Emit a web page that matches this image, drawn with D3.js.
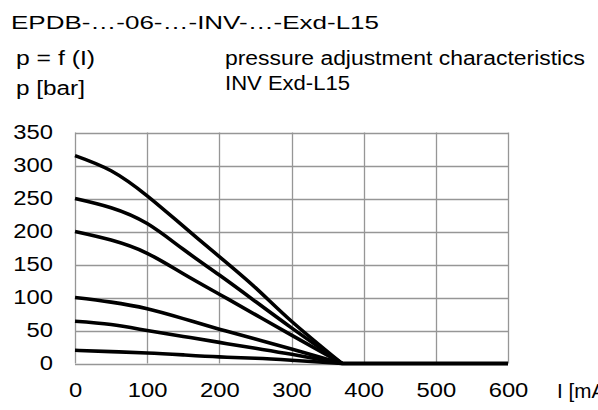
<!DOCTYPE html>
<html>
<head>
<meta charset="utf-8">
<script src="https://cdn.jsdelivr.net/npm/d3@7/dist/d3.min.js"></script>
<style>
  html, body { margin: 0; padding: 0; background: #fff; }
  svg { display: block; font-family: "Liberation Sans", Arial, sans-serif; }
</style>
</head>
<body>
<svg id="chart" width="598" height="410"></svg>
<script>
// ---- data ----
const currentPoints = [0, 50, 100, 150, 200, 250, 300, 370];
const curve315 = [315, 292, 254, 208, 162, 115, 64, 0];
const curve250 = [250, 236, 212, 173, 134, 94, 54, 0];
const curve200 = [200, 187, 167, 136, 105, 74, 43, 0];
const curve100 = [100, 93, 83, 68, 52, 37, 22, 0];
const curve64  = [64, 59, 50, 41, 32, 23, 14, 0];
const curve20  = [20, 18, 16, 13, 10, 8, 5, 0];
const zeroLineX = [370, 600];
const zeroLineY = [0, 0];
const xTicks = [0, 100, 200, 300, 400, 500, 600];
const yTicks = [0, 50, 100, 150, 200, 250, 300, 350];
const titleText = "EPDB-…-06-…-INV-…-Exd-L15";
const formulaText = "p = f (I)";
const yUnitText = "p [bar]";
const descText1 = "pressure adjustment characteristics";
const descText2 = "INV Exd-L15";
const xUnitText = "I [mA]";

// ---- chart ----
const svg = d3.select("#chart");
const x = d3.scaleLinear().domain([0, 600]).range([75, 508]);
const y = d3.scaleLinear().domain([0, 350]).range([363.5, 132.5]);
const STRETCH = 1.22;

function stretch(sel, factor) {
  sel.each(function() {
    const w = this.getComputedTextLength();
    d3.select(this).attr("textLength", w * factor).attr("lengthAdjust", "spacingAndGlyphs");
  });
}

const grid = svg.append("g");
grid.selectAll("line.h").data(yTicks).join("line")
  .attr("x1", x(0)).attr("x2", x(600))
  .attr("y1", d => Math.round(y(d)) + 0.5).attr("y2", d => Math.round(y(d)) + 0.5)
  .attr("stroke", "#969696").attr("stroke-width", 1.3);
grid.selectAll("line.v").data(xTicks).join("line")
  .attr("y1", y(0)).attr("y2", y(350))
  .attr("x1", d => Math.round(x(d)) + 0.5).attr("x2", d => Math.round(x(d)) + 0.5)
  .attr("stroke", "#969696").attr("stroke-width", 1.3);

// axes (labels only)
const yAxis = d3.axisLeft(y).tickValues(yTicks).tickSize(0).tickPadding(22);
const gy = svg.append("g").attr("transform", "translate(" + x(0) + ",0)").call(yAxis);
gy.select(".domain").remove();
gy.selectAll("text").attr("font-size", 19.5).attr("fill", "#000")
  .attr("font-family", "Liberation Sans, Arial, sans-serif").call(stretch, STRETCH);

const xAxis = d3.axisBottom(x).tickValues(xTicks).tickSize(0).tickPadding(20);
const gx = svg.append("g").attr("transform", "translate(0," + y(0) + ")").call(xAxis);
gx.select(".domain").remove();
gx.selectAll("text").attr("font-size", 19.5).attr("fill", "#000")
  .attr("font-family", "Liberation Sans, Arial, sans-serif").call(stretch, STRETCH);

// curves
const series = [curve315, curve250, curve200, curve100, curve64, curve20];
const line = d3.line()
  .x((d, i) => x(currentPoints[i]))
  .y(d => y(d))
  .curve(d3.curveNatural);
svg.append("g").selectAll("path").data(series).join("path")
  .attr("d", d => line(d))
  .attr("fill", "none").attr("stroke", "#000").attr("stroke-width", 3.6)
  .attr("stroke-linejoin", "round");

const zeroLine = d3.line().x((d, i) => x(zeroLineX[i])).y(d => y(d));
svg.append("path").attr("d", zeroLine(zeroLineY))
  .attr("fill", "none").attr("stroke", "#000").attr("stroke-width", 4);

// texts
const t = svg.append("g").attr("fill", "#000");
t.append("text").attr("x", 11).attr("y", 28.5).attr("font-size", 19).text(titleText)
  .attr("textLength", 368).attr("lengthAdjust", "spacingAndGlyphs");
t.append("text").attr("x", 16).attr("y", 65).attr("font-size", 19.5).text(formulaText)
  .attr("textLength", 79).attr("lengthAdjust", "spacingAndGlyphs");
t.append("text").attr("x", 16).attr("y", 95).attr("font-size", 19.5).text(yUnitText)
  .attr("textLength", 69).attr("lengthAdjust", "spacingAndGlyphs");
t.append("text").attr("x", 225).attr("y", 65).attr("font-size", 19.5).text(descText1)
  .attr("textLength", 360).attr("lengthAdjust", "spacingAndGlyphs");
t.append("text").attr("x", 225).attr("y", 90).attr("font-size", 19.5).text(descText2)
  .attr("textLength", 125).attr("lengthAdjust", "spacingAndGlyphs");
t.append("text").attr("x", 557).attr("y", 398).attr("font-size", 19.5).text(xUnitText).call(stretch, 1.06);
</script>
</body>
</html>
